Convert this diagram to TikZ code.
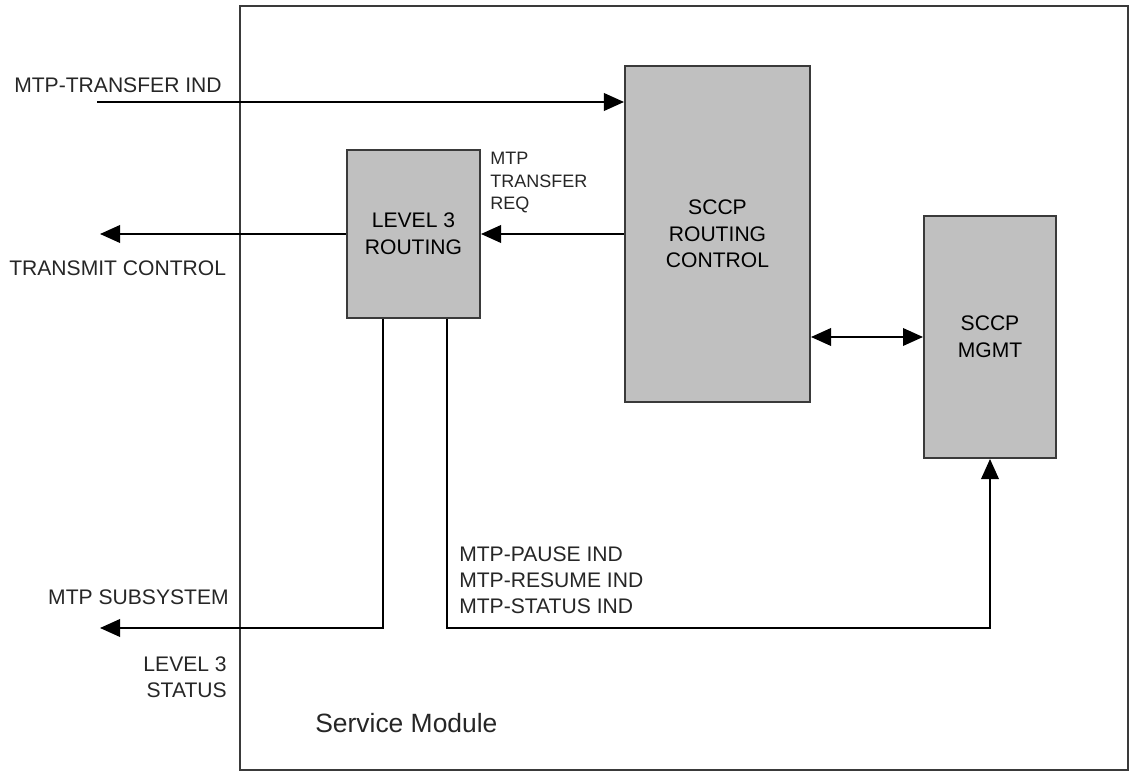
\documentclass[tikz,border=0pt]{standalone}
\usepackage{fontspec}
\setmainfont{Liberation Sans}
\usetikzlibrary{arrows.meta,positioning}
\tikzstyle{arrow} = [line width=1.2pt, ->, >={Triangle[length=0.5cm,width=0.44cm]}]
\definecolor{boxgray}{HTML}{C0C0C0}
\definecolor{edgegray}{HTML}{3A3A3A}

\begin{document}
\begin{tikzpicture}[x=0.025cm,y=-0.025cm]
\tikzset{block/.style={draw=edgegray,fill=boxgray,line width=1.4pt,align=center,font=\fontsize{15}{19}\selectfont},
lbl/.style={font=\fontsize{15}{18.5}\selectfont,inner sep=0pt,text=black!85}}
\useasboundingbox (0,0) rectangle (1131,773);
\draw[line width=1.2pt,edgegray] (240,6) rectangle (1128,770);

% blocks
\node[block,minimum width=4.625cm,minimum height=8.4cm] (rc) at (717.5,234) {SCCP\\ROUTING\\CONTROL};
\node[block,minimum width=3.325cm,minimum height=4.2cm] (l3) at (413.5,234) {LEVEL 3\\ROUTING};
\node[block,minimum width=3.3cm,minimum height=6.05cm] (mg) at (990,337) {SCCP\\MGMT};

% free ends
\coordinate (in) at (97,102);
\coordinate (tc) at (100,234);
\coordinate (ss) at (100,628);

\draw[arrow] (in) -- (in -| rc.west);
\draw[arrow] (rc.west) -- (l3.east);
\draw[arrow] (l3.west) -- (tc);
\draw[arrow,<->] (rc.east |- mg.west) -- (mg.west);
\draw[arrow] ([xshift=-0.76cm]l3.south) |- (ss);
\draw[arrow] ([xshift=0.84cm]l3.south) |- (mg.south |- ss) -- (mg.south);

% labels
\node[lbl,anchor=west] (tin) at (14,85) {MTP-TRANSFER IND};
\node[lbl,anchor=west] (ttc) at (9,268) {TRANSMIT CONTROL};
\node[lbl,anchor=west,font=\fontsize{12.8}{16}\selectfont,align=left] (treq) at (490,183) {MTP\\TRANSFER\\REQ};
\node[lbl,anchor=east] (tss) at (229,597) {MTP SUBSYSTEM};
\node[lbl,anchor=east,align=right] (tst) at (227,677) {LEVEL 3\\STATUS};
\node[lbl,anchor=west,align=left] (tind) at (459,580) {MTP-PAUSE IND\\MTP-RESUME IND\\MTP-STATUS IND};
\node[lbl,anchor=west,font=\fontsize{18.8}{22}\selectfont] (tsm) at (315,723) {Service Module};

\end{tikzpicture}
\end{document}
